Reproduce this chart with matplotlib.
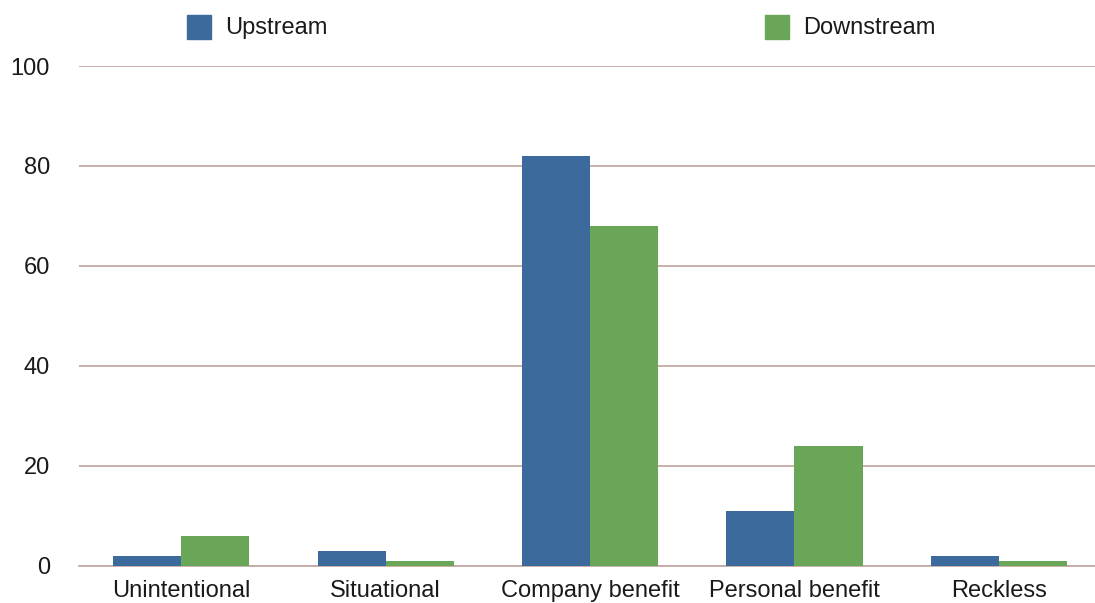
import numpy as np
import matplotlib
matplotlib.use("Agg")
import matplotlib.pyplot as plt
import matplotlib.patches as mpatches

categories = ["Unintentional", "Situational", "Company benefit", "Personal benefit", "Reckless"]
upstream   = [2, 3, 82, 11, 2]
downstream = [6, 1, 68, 24, 1]

UP_COLOR   = "#3c6a9d"
DOWN_COLOR = "#6aa658"
GRID_COLOR = "#c4aaa2"

plt.rcParams["font.family"] = ["Liberation Sans", "DejaVu Sans"]

fig = plt.figure(figsize=(10.95, 6.03), dpi=100)
ax = fig.add_axes([79/1095, 1-566/603, 1-79/1095, 500/603])

x = np.arange(len(categories))
w = 0.333
ax.bar(x - w/2, upstream, w, color=UP_COLOR, zorder=3)
ax.bar(x + w/2, downstream, w, color=DOWN_COLOR, zorder=3)

ax.set_ylim(0, 100)
ax.set_xlim(-0.5, 4.47)
ax.set_yticks(range(0, 101, 20))
ax.set_xticks(x)
ax.set_xticklabels(categories)
ax.tick_params(axis="both", length=0, labelsize=17, colors="#1a1a1a")
ax.tick_params(axis="y", pad=21)
ax.tick_params(axis="x", pad=10)
ax.yaxis.grid(True, color=GRID_COLOR, linewidth=1.3, zorder=0)
ax.set_axisbelow(True)
for s in ax.spines.values():
    s.set_visible(False)
ax.axhline(0, color=GRID_COLOR, linewidth=1.3, zorder=2, clip_on=False)

# legend drawn by hand at the top
for (x0, lab, col) in [(187, "Upstream", UP_COLOR), (765, "Downstream", DOWN_COLOR)]:
    fig.patches.append(mpatches.Rectangle((x0/1095, 1-39/603), 24/1095, 24/603,
                                          color=col, transform=fig.transFigure))
    fig.text((x0+38)/1095, 1-28/603, lab, ha="left", va="center",
             fontsize=17, color="#1a1a1a")

fig.savefig("out.png", dpi=100)
